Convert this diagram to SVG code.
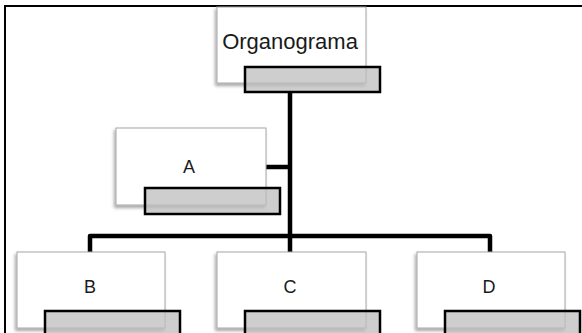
<svg xmlns="http://www.w3.org/2000/svg" width="582" height="333" viewBox="0 0 582 333">
  <defs>
    <filter id="shadow" x="-10%" y="-10%" width="120%" height="130%">
      <feDropShadow dx="-1.5" dy="2.5" stdDeviation="1.5" flood-color="#000" flood-opacity="0.35"/>
    </filter>
  </defs>
  <style>
    .box { fill: #ffffff; stroke: #a6a6a6; stroke-width: 1; filter: url(#shadow); }
    .bar { fill: #bdbdbd; fill-opacity: 0.75; stroke: #000; stroke-width: 2.5; }
    .label { font-family: "Liberation Sans", Arial, sans-serif; font-size: 18px; fill: #1a1a1a; text-anchor: middle; }
    .title { font-size: 22px; }
    .line { fill: none; stroke: #000; stroke-width: 4.5; stroke-linejoin: round; }
    .frame { fill: none; stroke: #000; stroke-width: 2; }
  </style>

  <!-- outer frame (top and left edges) -->
  <path class="frame" d="M5,333 V6 H582"/>

  <!-- connectors -->
  <g id="connectors">
    <path class="line" d="M290,92 V252"/>
    <path class="line" d="M266,167 H290"/>
    <path class="line" d="M90,252 V236 H490 V252"/>
  </g>

  <g id="node-organograma">
    <rect class="box" x="217" y="7" width="149" height="76"/>
    <text class="label title" x="290" y="49">Organograma</text>
    <rect class="bar" x="245" y="67" width="135" height="25"/>
  </g>

  <g id="node-a">
    <rect class="box" x="116" y="128" width="150" height="77"/>
    <text class="label" x="189" y="173">A</text>
    <rect class="bar" x="145" y="188" width="135" height="26"/>
  </g>

  <g id="node-b">
    <rect class="box" x="17" y="252" width="148" height="76"/>
    <text class="label" x="90" y="293">B</text>
    <rect class="bar" x="45" y="311" width="135" height="26"/>
  </g>

  <g id="node-c">
    <rect class="box" x="217" y="252" width="149" height="76"/>
    <text class="label" x="290" y="293">C</text>
    <rect class="bar" x="245" y="311" width="135" height="26"/>
  </g>

  <g id="node-d">
    <rect class="box" x="417" y="252" width="148" height="76"/>
    <text class="label" x="489" y="293">D</text>
    <rect class="bar" x="445" y="311" width="135" height="26"/>
  </g>
</svg>
